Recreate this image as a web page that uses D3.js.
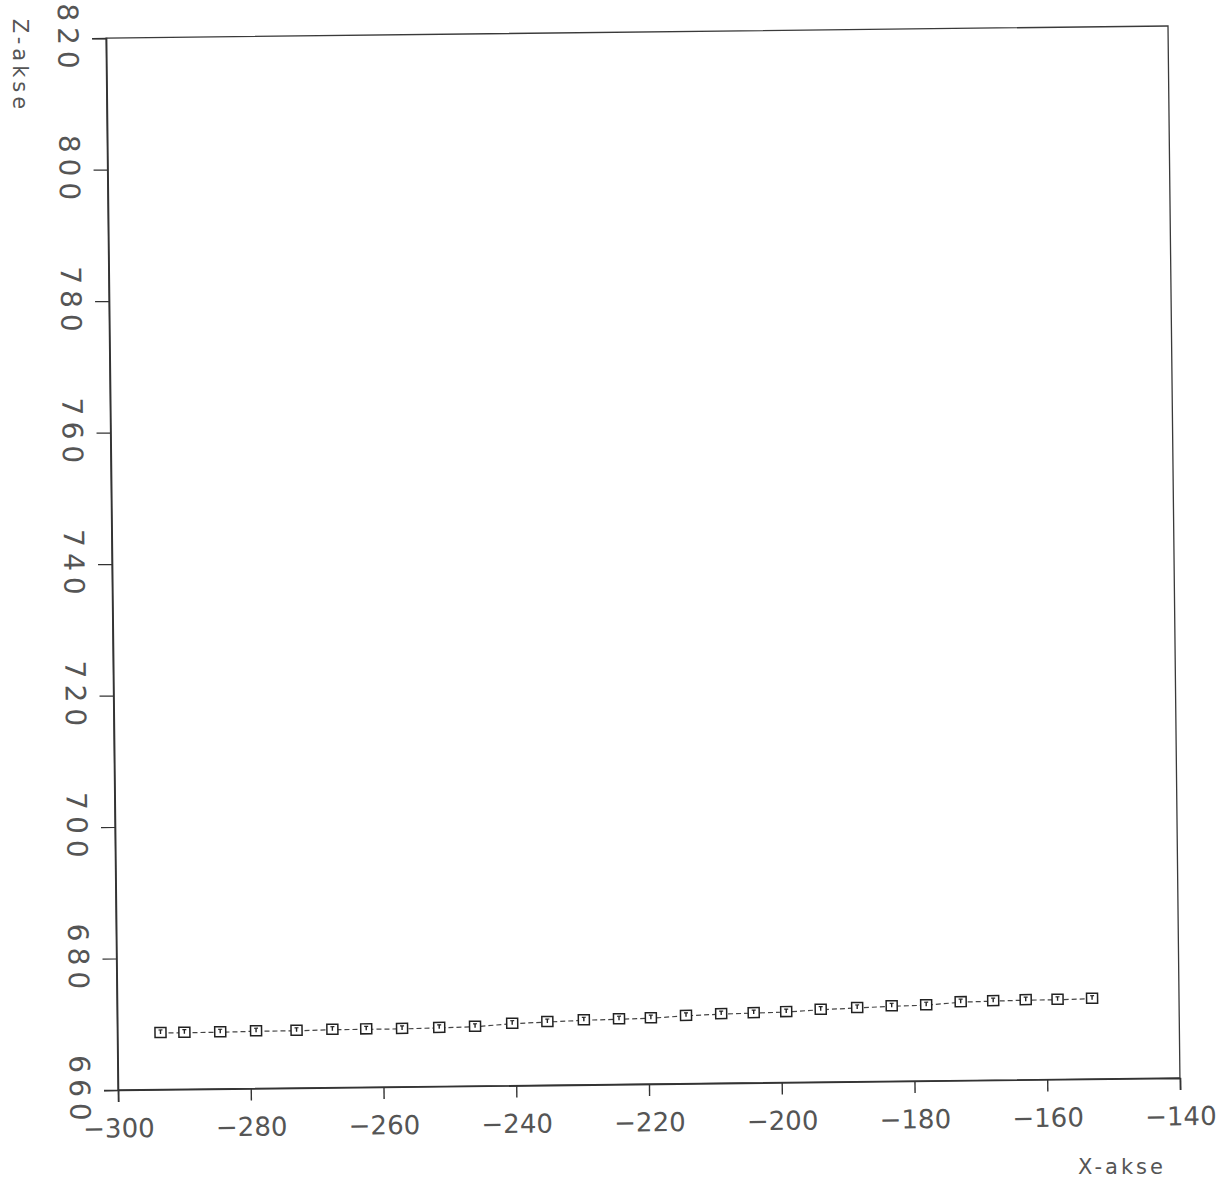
<!DOCTYPE html>
<html>
<head>
<meta charset="utf-8">
<script src="https://cdn.jsdelivr.net/npm/d3@7/dist/d3.min.js"></script>
<style>
  body { margin: 0; background: #fff; }
  svg { display: block; }
  text { font-family: "DejaVu Sans", sans-serif; fill: #555; }
</style>
</head>
<body>
<svg id="chart" width="1218" height="1180"></svg>
<script>
// data
const xVals = [-293.5, -289.9, -284.5, -279.1, -273.0, -267.6, -262.5, -257.1, -251.5, -246.1,
  -240.5, -235.2, -229.7, -224.4, -219.6, -214.3, -209.0, -204.1, -199.2, -194.0,
  -188.5, -183.3, -178.1, -172.9, -168.0, -163.1, -158.3, -153.1];
const zVals = [668.6, 668.6, 668.6, 668.7, 668.7, 668.8, 668.8, 668.8, 668.9, 669.0,
  669.4, 669.6, 669.8, 669.9, 670.0, 670.3, 670.5, 670.6, 670.7, 671.0,
  671.2, 671.4, 671.5, 671.9, 672.0, 672.1, 672.1, 672.2];
const xTicks = [-300, -280, -260, -240, -220, -200, -180, -160, -140];
const zTicks = [660, 680, 700, 720, 740, 760, 780, 800, 820];

const svg = d3.select('#chart');
const W = 1062, H = 1052;

// the scanned page is tilted a little, so the whole frame is rotated
const g = svg.append('g').attr('transform', 'translate(118,1090) rotate(-0.65)');

const x = d3.scaleLinear().domain([-300, -140]).range([0, W]);
const y = d3.scaleLinear().domain([660, 820]).range([0, -H]);

// frame
g.append('rect').attr('x', 0).attr('y', -H).attr('width', W).attr('height', H)
  .attr('fill', 'none').attr('stroke', '#3a3a3a').attr('stroke-width', 1.3);

// x axis
const xAxis = g.append('g').call(d3.axisBottom(x).tickValues(xTicks).tickSize(12).tickPadding(12)
  .tickFormat(d => d3.format('')(d).replace('-', '\u2212')));
xAxis.select('.domain').attr('stroke', '#333').attr('stroke-width', 1.6);
xAxis.selectAll('.tick line').attr('stroke', '#333').attr('stroke-width', 1.4);
xAxis.selectAll('.tick text').attr('fill', '#5a5a5a').style('font-size', '26px')
  .style('font-family', '"DejaVu Sans", sans-serif').attr('dy', '0.9em');

// z axis, labels turned on their side
const yAxis = g.append('g').call(d3.axisLeft(y).tickValues(zTicks).tickSize(14).tickFormat(d3.format('')));
yAxis.select('.domain').attr('stroke', '#333').attr('stroke-width', 1.6);
yAxis.selectAll('.tick line').attr('stroke', '#333').attr('stroke-width', 1.2);
yAxis.selectAll('.tick text').attr('fill', '#5a5a5a').style('font-size', '28px')
  .style('font-family', '"DejaVu Sans", sans-serif').style('letter-spacing', '6px')
  .attr('x', -40).attr('dy', 0).attr('text-anchor', 'middle')
  .attr('transform', 'rotate(90,-40,0)').attr('dominant-baseline', 'middle');

// series
const pts = xVals.map((v, i) => [v, zVals[i]]);
g.append('path').datum(pts)
  .attr('d', d3.line().x(d => x(d[0])).y(d => y(d[1])))
  .attr('fill', 'none').attr('stroke', '#444').attr('stroke-width', 1.2)
  .attr('stroke-dasharray', '5,3');

const mk = g.append('g').selectAll('g').data(pts).join('g')
  .attr('transform', d => `translate(${x(d[0])},${y(d[1])})`);
mk.append('rect').attr('x', -5.5).attr('y', -5.5).attr('width', 11).attr('height', 10)
  .attr('fill', '#fff').attr('stroke', '#222').attr('stroke-width', 1.5);
mk.append('line').attr('x1', 0).attr('x2', 0).attr('y1', -3).attr('y2', 1)
  .attr('stroke', '#222').attr('stroke-width', 1.4);
mk.append('line').attr('x1', -2).attr('x2', 2).attr('y1', -3).attr('y2', -3)
  .attr('stroke', '#222').attr('stroke-width', 1.2);

// axis titles
svg.append('text').text('Z-akse').attr('transform', 'translate(13,66) rotate(90)')
  .attr('text-anchor', 'middle').style('font-size', '21px').style('letter-spacing', '4px');
svg.append('text').text('X-akse').attr('x', 1122).attr('y', 1174)
  .attr('text-anchor', 'middle').style('font-size', '21px').style('letter-spacing', '3px');
</script>
</body>
</html>
